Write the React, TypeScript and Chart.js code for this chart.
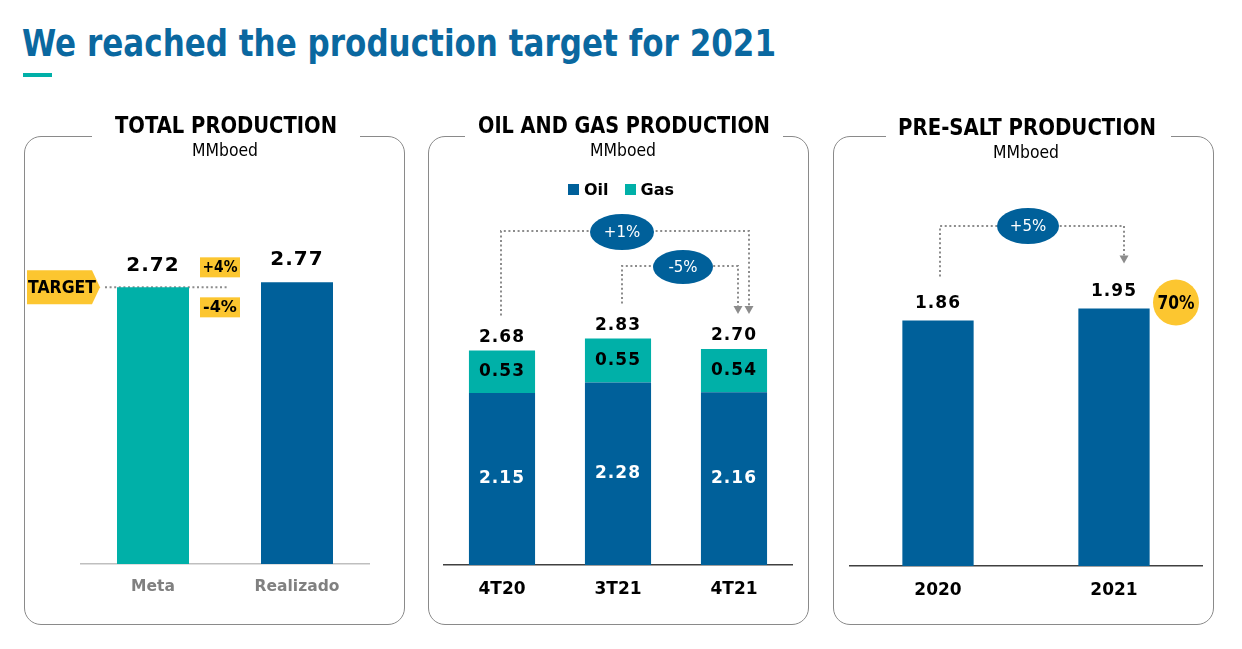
import React, { useEffect, useLayoutEffect, useRef } from "react";
import { Chart, registerables } from "chart.js";

Chart.register(...registerables);

// ---------- data ----------
const titleText = "We reached the production target for 2021";
const panelTitles = ["TOTAL PRODUCTION", "OIL AND GAS PRODUCTION", "PRE-SALT PRODUCTION"];
const unitLabel = "MMboed";

const totalCategories = ["Meta", "Realizado"];
const totalValues = [2.72, 2.77];
const targetLabel = "TARGET";
const targetBand = ["+4%", "-4%"];

const oilGasCategories = ["4T20", "3T21", "4T21"];
const oilValues = [2.15, 2.28, 2.16];
const gasValues = [0.53, 0.55, 0.54];
const oilGasTotals = [2.68, 2.83, 2.7];
const oilGasSeries = ["Oil", "Gas"];
const oilGasChanges = ["+1%", "-5%"];

const preSaltCategories = ["2020", "2021"];
const preSaltValues = [1.86, 1.95];
const preSaltChange = "+5%";
const preSaltShare = "70%";

// ---------- styles ----------
const FONT = "'DejaVu Sans', Verdana, sans-serif";
const BLUE = "#00609a";
const TEAL = "#00b0a8";
const YELLOW = "#fcc630";
const TITLE_BLUE = "#0a68a0";
const DOT = "#8c8c8c";

function Fit({ w, origin, style, children }: any) {
  const ref = useRef<HTMLSpanElement>(null);
  useLayoutEffect(() => {
    const fit = () => {
      const el = ref.current;
      if (!el) return;
      el.style.transform = "none";
      const nat = el.getBoundingClientRect().width;
      if (nat > 0) el.style.transform = `scaleX(${w / nat})`;
    };
    fit();
    (document as any).fonts?.ready?.then(fit);
  }, [w]);
  return (
    <span
      ref={ref}
      style={{ display: "inline-block", whiteSpace: "nowrap", transformOrigin: origin || "center", ...style }}
    >
      {children}
    </span>
  );
}

function dotted(ctx: CanvasRenderingContext2D, pts: number[][]) {
  ctx.save();
  ctx.strokeStyle = DOT;
  ctx.lineWidth = 2;
  ctx.setLineDash([2, 2.6]);
  ctx.beginPath();
  ctx.moveTo(pts[0][0], pts[0][1]);
  for (let i = 1; i < pts.length; i++) ctx.lineTo(pts[i][0], pts[i][1]);
  ctx.stroke();
  ctx.restore();
}

function arrowHead(ctx: CanvasRenderingContext2D, x: number, tipY: number) {
  ctx.save();
  ctx.fillStyle = DOT;
  ctx.beginPath();
  ctx.moveTo(x - 4.5, tipY - 8);
  ctx.lineTo(x + 4.5, tipY - 8);
  ctx.lineTo(x, tipY);
  ctx.closePath();
  ctx.fill();
  ctx.restore();
}

function ellipseLabel(ctx: CanvasRenderingContext2D, cx: number, cy: number, rx: number, ry: number, text: string) {
  ctx.save();
  ctx.fillStyle = BLUE;
  ctx.beginPath();
  ctx.ellipse(cx, cy, rx, ry, 0, 0, Math.PI * 2);
  ctx.fill();
  ctx.fillStyle = "#ffffff";
  ctx.font = `15px ${FONT}`;
  ctx.textAlign = "center";
  ctx.textBaseline = "middle";
  ctx.fillText(text, cx, cy + 1);
  ctx.restore();
}

function txt(
  ctx: CanvasRenderingContext2D,
  text: string,
  x: number,
  y: number,
  size: number,
  color: string,
  spacing = 1,
  maxW?: number
) {
  ctx.save();
  ctx.fillStyle = color;
  ctx.font = `bold ${size}px ${FONT}`;
  ctx.textAlign = "center";
  ctx.textBaseline = "middle";
  (ctx as any).letterSpacing = `${spacing}px`;
  if (maxW) ctx.fillText(text, x, y, maxW);
  else ctx.fillText(text, x, y);
  ctx.restore();
}

function xAxis(color: string, borderColor: string, size: number) {
  return {
    grid: { display: false, drawTicks: false },
    border: { display: true, color: borderColor, width: 1.5 },
    ticks: { color, font: { family: FONT, size, weight: "bold" }, padding: 14 },
    afterFit: (s: any) => {
      s.height = 40;
    },
  };
}

function useChart(ref: React.RefObject<HTMLCanvasElement>, make: () => any) {
  useEffect(() => {
    if (!ref.current) return;
    const chart = new Chart(ref.current, make());
    return () => chart.destroy();
  }, []);
}

const baseOptions = {
  animation: false,
  responsive: false,
  maintainAspectRatio: false,
  plugins: { legend: { display: false }, tooltip: { enabled: false } },
};

export default function App() {
  const c1 = useRef<HTMLCanvasElement>(null);
  const c2 = useRef<HTMLCanvasElement>(null);
  const c3 = useRef<HTMLCanvasElement>(null);

  useEffect(() => {
    document.body.style.margin = "0";
  }, []);

  useChart(c1, () => ({
    type: "bar",
    data: {
      labels: totalCategories,
      datasets: [{ data: totalValues, backgroundColor: [TEAL, BLUE], barPercentage: 0.5, categoryPercentage: 1 }],
    },
    options: {
      ...baseOptions,
      layout: { padding: { left: 57, right: 37, top: 72, bottom: 21 } },
      scales: { x: xAxis("#808080", "#bfbfbf", 15.5), y: { display: false, min: 0, max: 3.5 } },
    },
    plugins: [
      {
        id: "totalDeco",
        beforeDatasetsDraw(chart: any) {
          const ctx = chart.ctx;
          const bar = chart.getDatasetMeta(0).data[0];
          const yT = chart.scales.y.getPixelForValue(totalValues[0]);
          dotted(ctx, [
            [bar.x - bar.width / 2 - 12, yT],
            [bar.x + bar.width / 2 + 39, yT],
          ]);
        },
        afterDatasetsDraw(chart: any) {
          const ctx = chart.ctx;
          const meta = chart.getDatasetMeta(0);
          meta.data.forEach((b: any, i: number) => {
            txt(ctx, totalValues[i].toFixed(2), b.x, b.y - 22, 20, "#000");
          });
          const bar = meta.data[0];
          const yT = chart.scales.y.getPixelForValue(totalValues[0]);
          // TARGET tag
          const tip = bar.x - bar.width / 2 - 17;
          const left = tip - 73;
          ctx.save();
          ctx.fillStyle = YELLOW;
          ctx.beginPath();
          ctx.moveTo(left, yT - 17);
          ctx.lineTo(tip - 8, yT - 17);
          ctx.lineTo(tip, yT);
          ctx.lineTo(tip - 8, yT + 17);
          ctx.lineTo(left, yT + 17);
          ctx.closePath();
          ctx.fill();
          ctx.restore();
          txt(ctx, targetLabel, left + 35, yT + 1, 17, "#000", 0, 68);
          // +4% / -4% boxes
          const bx = bar.x + bar.width / 2 + 11;
          [-20, 20].forEach((dy, i) => {
            ctx.save();
            ctx.fillStyle = YELLOW;
            ctx.fillRect(bx, yT + dy - 10, 40, 20);
            ctx.restore();
            txt(ctx, targetBand[i], bx + 20, yT + dy + 1, 16, "#000", 0, 35);
          });
        },
      },
    ],
  }));

  useChart(c2, () => ({
    type: "bar",
    data: {
      labels: oilGasCategories,
      datasets: [
        { label: oilGasSeries[0], data: oilValues, backgroundColor: BLUE, barPercentage: 0.57, categoryPercentage: 1 },
        { label: oilGasSeries[1], data: gasValues, backgroundColor: TEAL, barPercentage: 0.57, categoryPercentage: 1 },
      ],
    },
    options: {
      ...baseOptions,
      layout: { padding: { left: 16, right: 18, top: 109, bottom: 20 } },
      scales: {
        x: { ...xAxis("#000", "#404040", 17), stacked: true },
        y: { display: false, min: 0, max: 4, stacked: true },
      },
    },
    plugins: [
      {
        id: "oilGasDeco",
        afterDatasetsDraw(chart: any) {
          const ctx = chart.ctx;
          const oil = chart.getDatasetMeta(0).data;
          const gas = chart.getDatasetMeta(1).data;
          oil.forEach((b: any, i: number) => {
            txt(ctx, oilValues[i].toFixed(2), b.x, (b.y + b.base) / 2, 17, "#ffffff");
          });
          gas.forEach((b: any, i: number) => {
            txt(ctx, gasValues[i].toFixed(2), b.x, (b.y + b.base) / 2, 17, "#000");
            txt(ctx, oilGasTotals[i].toFixed(2), b.x, b.y - 13, 17, "#000");
          });
          const top = chart.chartArea.top;
          // +1% bracket
          const y1 = top - 14;
          dotted(ctx, [
            [gas[0].x - 1, gas[0].y - 35],
            [gas[0].x - 1, y1],
            [gas[2].x + 15, y1],
            [gas[2].x + 15, gas[2].y - 43],
          ]);
          arrowHead(ctx, gas[2].x + 15, gas[2].y - 35);
          // -5% bracket
          const y2 = top + 21;
          dotted(ctx, [
            [gas[1].x + 4, gas[1].y - 35],
            [gas[1].x + 4, y2],
            [gas[2].x + 4, y2],
            [gas[2].x + 4, gas[2].y - 43],
          ]);
          arrowHead(ctx, gas[2].x + 4, gas[2].y - 35);
          ellipseLabel(ctx, gas[1].x + 4, y1 + 1, 32, 18, oilGasChanges[0]);
          ellipseLabel(ctx, gas[1].x + 65, y2 + 1, 30, 17, oilGasChanges[1]);
        },
      },
    ],
  }));

  useChart(c3, () => ({
    type: "bar",
    data: {
      labels: preSaltCategories,
      datasets: [{ data: preSaltValues, backgroundColor: BLUE, barPercentage: 0.405, categoryPercentage: 1 }],
    },
    options: {
      ...baseOptions,
      layout: { padding: { left: 17, right: 13, top: 100, bottom: 19 } },
      scales: { x: xAxis("#000", "#404040", 17), y: { display: false, min: 0, max: 2.5 } },
    },
    plugins: [
      {
        id: "preSaltDeco",
        afterDatasetsDraw(chart: any) {
          const ctx = chart.ctx;
          const d = chart.getDatasetMeta(0).data;
          d.forEach((b: any, i: number) => {
            txt(ctx, preSaltValues[i].toFixed(2), b.x, b.y - 17, 17, "#000");
          });
          const yH = chart.chartArea.top - 10;
          dotted(ctx, [
            [d[0].x + 2, d[0].y - 44],
            [d[0].x + 2, yH],
            [d[1].x + 10, yH],
            [d[1].x + 10, d[1].y - 53],
          ]);
          arrowHead(ctx, d[1].x + 10, d[1].y - 45);
          ellipseLabel(ctx, (d[0].x + d[1].x) / 2 + 2, yH, 31, 18, preSaltChange);
          // share circle
          ctx.save();
          ctx.fillStyle = YELLOW;
          ctx.beginPath();
          ctx.arc(d[1].x + 62, d[1].y - 6, 23, 0, Math.PI * 2);
          ctx.fill();
          ctx.restore();
          txt(ctx, preSaltShare, d[1].x + 62, d[1].y - 5, 19, "#000", 0, 37);
        },
      },
    ],
  }));

  const panels = [
    { left: 24, gap: [92, 360], cx: 226, tw: 222, dy: 0 },
    { left: 428, gap: [465, 783], cx: 624, tw: 292, dy: 0 },
    { left: 833, gap: [886, 1171], cx: 1027, tw: 258, dy: 2 },
  ];
  const canvases = [c1, c2, c3];

  return (
    <div style={{ position: "absolute", left: 0, top: 0, width: 1242, height: 649, background: "#fff", overflow: "hidden", fontFamily: FONT }}>
      <div style={{ position: "absolute", left: 22, top: 24, lineHeight: "38px", fontSize: 38, fontWeight: "bold", color: TITLE_BLUE }}>
        <Fit w={754} origin="left">{titleText}</Fit>
      </div>
      <div style={{ position: "absolute", left: 23, top: 73, width: 29, height: 4, background: TEAL }} />

      {panels.map((p, i) => (
        <React.Fragment key={i}>
          <div
            style={{
              position: "absolute",
              left: p.left,
              top: 136,
              width: 381,
              height: 489,
              boxSizing: "border-box",
              border: "1.5px solid #8a8a8a",
              borderRadius: 17,
            }}
          />
          <div style={{ position: "absolute", left: p.gap[0], top: 130, width: p.gap[1] - p.gap[0], height: 14, background: "#fff" }} />
          <canvas
            ref={canvases[i]}
            width={382}
            height={489}
            style={{ position: "absolute", left: p.left, top: 136, width: 382, height: 489, display: "block" }}
          />
          <div
            style={{
              position: "absolute",
              left: p.cx,
              top: 111 + p.dy,
              transform: "translateX(-50%)",
              fontSize: 23,
              lineHeight: "28px",
              fontWeight: "bold",
              color: "#000",
            }}
          >
            <Fit w={p.tw}>{panelTitles[i]}</Fit>
          </div>
          <div
            style={{
              position: "absolute",
              left: p.cx - 1,
              top: 139 + p.dy,
              transform: "translateX(-50%)",
              fontSize: 17,
              lineHeight: "22px",
              color: "#000",
            }}
          >
            <Fit w={66}>{unitLabel}</Fit>
          </div>
        </React.Fragment>
      ))}

      <div style={{ position: "absolute", left: 568, top: 178, height: 22, display: "flex", alignItems: "center", fontSize: 16, fontWeight: "bold", color: "#000" }}>
        <span style={{ width: 11, height: 11, background: BLUE, display: "inline-block", marginRight: 5 }} />
        <span>{oilGasSeries[0]}</span>
        <span style={{ width: 11, height: 11, background: TEAL, display: "inline-block", marginLeft: 16, marginRight: 5 }} />
        <span>{oilGasSeries[1]}</span>
      </div>
    </div>
  );
}
